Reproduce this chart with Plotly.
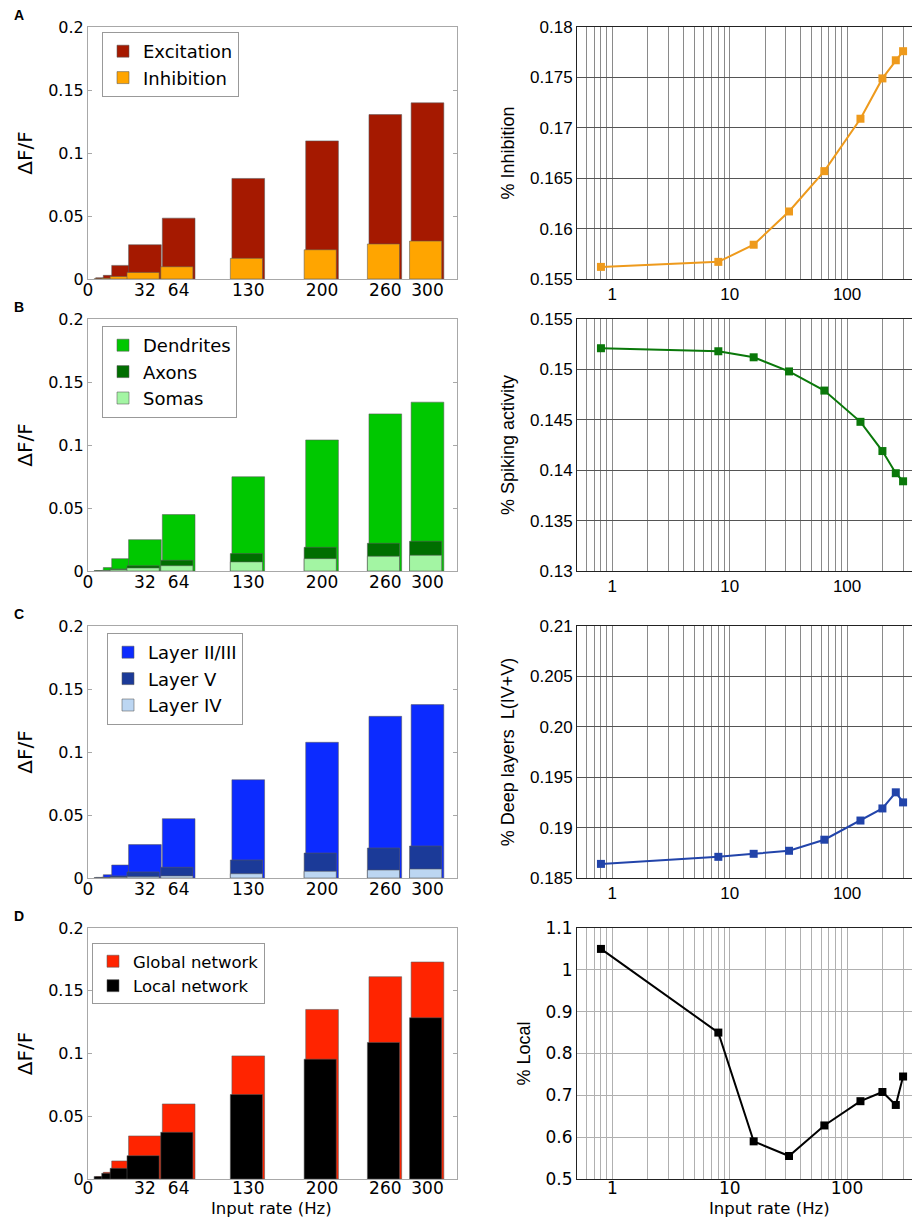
import plotly.graph_objects as go

# input rates (Hz) shared by every panel
rates = [0.8, 8, 16, 32, 64, 130, 200, 260, 300]
bar_tick_rates = [32, 64, 130, 200, 260, 300]
bar_tick_text = ["0", "32", "64", "130", "200", "260", "300"]

# left column: dF/F bars
excitation = [0.0010, 0.0029, 0.0108, 0.0272, 0.0483, 0.0798, 0.1096, 0.1305, 0.1398]
inhibition = [0.0002, 0.0006, 0.0020, 0.0052, 0.0097, 0.0164, 0.0232, 0.0278, 0.0301]

dendrites = [0.0003, 0.0027, 0.0098, 0.0249, 0.0448, 0.0748, 0.1040, 0.1247, 0.1340]
axons = [0.0001, 0.0005, 0.0016, 0.0042, 0.0085, 0.0138, 0.0188, 0.0220, 0.0236]
somas = [0.0001, 0.0003, 0.0010, 0.0024, 0.0042, 0.0072, 0.0098, 0.0117, 0.0125]

layer23 = [0.0005, 0.0026, 0.0103, 0.0265, 0.0471, 0.0780, 0.1077, 0.1283, 0.1376]
layer5 = [0.0001, 0.0006, 0.0016, 0.0048, 0.0085, 0.0143, 0.0198, 0.0238, 0.0254]
layer4 = [0.0001, 0.0002, 0.0005, 0.0010, 0.0016, 0.0034, 0.0053, 0.0063, 0.0071]

global_net = [0.0019, 0.0053, 0.0144, 0.0343, 0.0598, 0.0981, 0.1351, 0.1612, 0.1729]
local_net = [0.0020, 0.0045, 0.0085, 0.0186, 0.0372, 0.0673, 0.0955, 0.1088, 0.1285]

# right column: fractions vs rate (log x)
pct_inhibition = [0.1562, 0.1567, 0.1584, 0.1617, 0.1657, 0.1709, 0.1749, 0.1767, 0.1776]
pct_spiking = [0.1521, 0.1518, 0.1512, 0.1498, 0.1479, 0.1448, 0.1419, 0.1397, 0.1389]
pct_deep = [0.1864, 0.1871, 0.1874, 0.1877, 0.1888, 0.1907, 0.1919, 0.1935, 0.1925]
pct_local = [1.05, 0.85, 0.59, 0.555, 0.628, 0.686, 0.708, 0.677, 0.745]

inh_ticks = [0.155, 0.16, 0.165, 0.17, 0.175, 0.18]
inh_labels = ["0.155", "0.16", "0.165", "0.17", "0.175", "0.18"]
spk_ticks = [0.13, 0.135, 0.14, 0.145, 0.15, 0.155]
spk_labels = ["0.13", "0.135", "0.14", "0.145", "0.15", "0.155"]
deep_ticks = [0.185, 0.19, 0.195, 0.20, 0.205, 0.21]
deep_labels = ["0.185", "0.19", "0.195", "0.20", "0.205", "0.21"]
local_ticks = [0.5, 0.6, 0.7, 0.8, 0.9, 1.0, 1.1]
local_labels = ["0.5", "0.6", "0.7", "0.8", "0.9", "1", "1.1"]
dff_ticks = [0, 0.05, 0.1, 0.15, 0.2]
dff_labels = ["0", "0.05", "0.1", "0.15", "0.2"]
log_major = [1, 10, 100]
log_minor = [0.6, 0.7, 0.8, 0.9, 2, 3, 4, 5, 6, 7, 8, 9,
             20, 30, 40, 50, 60, 70, 80, 90, 200, 300]

W, H = 912, 1217
X_LO, X_HI = -22, 328
BAR_W = 31

left_dom = [88 / W, 457 / W]
right_dom = [577 / W, 1.0]
rows_px = [(27, 279), (319, 571), (626, 878), (928, 1179)]

DJ = "DejaVu Sans"
LIB = "Liberation Sans"

panels = [
    dict(
        letter="A",
        bars=[("Excitation", excitation, "#a51900"), ("Inhibition", inhibition, "#ffa500")],
        line=pct_inhibition, color="#ee9a1c", ytitle="% Inhibition",
        ticks=inh_ticks, labels=inh_labels, legend_px=(102, 32), legend_size=18,
        grid="#555555", vgrid="#8a8a8a",
    ),
    dict(
        letter="B",
        bars=[("Dendrites", dendrites, "#00c800"), ("Axons", axons, "#006e00"),
              ("Somas", somas, "#a3f5a3")],
        line=pct_spiking, color="#0a780a", ytitle="% Spiking activity",
        ticks=spk_ticks, labels=spk_labels, legend_px=(102, 326), legend_size=18,
        grid="#555555", vgrid="#8a8a8a",
    ),
    dict(
        letter="C",
        bars=[("Layer II/III", layer23, "#0c2bff"), ("Layer V", layer5, "#1b3a98"),
              ("Layer IV", layer4, "#bcd6f2")],
        line=pct_deep, color="#2244aa", ytitle="% Deep layers  L(IV+V)",
        ticks=deep_ticks, labels=deep_labels, legend_px=(107, 633), legend_size=18,
        grid="#555555", vgrid="#8a8a8a",
    ),
    dict(
        letter="D",
        bars=[("Global network", global_net, "#ff2400"), ("Local network", local_net, "#000000")],
        line=pct_local, color="#000000", ytitle="% Local",
        ticks=local_ticks, labels=local_labels, legend_px=(92, 943), legend_size=16.5,
        grid="#b0b0b0", vgrid="#b0b0b0",
    ),
]

fig = go.Figure()
layout = dict(
    width=W, height=H,
    margin=dict(l=0, r=0, t=0, b=0),
    paper_bgcolor="white", plot_bgcolor="white",
    barmode="overlay", showlegend=True,
    font=dict(family=DJ, color="black"),
    annotations=[],
)

for i, p in enumerate(panels):
    top, bot = rows_px[i]
    ydom = [1 - bot / H, 1 - top / H]
    li, ri = 2 * i + 1, 2 * i + 2
    lx = "x" if li == 1 else f"x{li}"
    ly = "y" if li == 1 else f"y{li}"
    rx, ry = f"x{ri}", f"y{ri}"
    leg = "legend" if i == 0 else f"legend{i + 1}"
    last = i == len(panels) - 1

    for k, (name, vals, col) in enumerate(p["bars"]):
        fig.add_trace(go.Bar(
            x=rates, y=vals, name=name, legend=leg,
            width=BAR_W if k == 0 else BAR_W - 0.5,
            offset=-BAR_W / 2 if k == 0 else -BAR_W / 2 - 1.5,
            marker=dict(color=col, line=dict(color="rgba(90,90,90,0.55)", width=1)),
            xaxis=lx, yaxis=ly, hoverinfo="skip",
        ))

    fig.add_trace(go.Scatter(
        x=rates, y=p["line"], mode="lines+markers", showlegend=False,
        line=dict(color=p["color"], width=2),
        marker=dict(symbol="square", size=8, color=p["color"]),
        xaxis=rx, yaxis=ry, cliponaxis=False, hoverinfo="skip",
    ))

    layout["xaxis" if li == 1 else f"xaxis{li}"] = dict(
        domain=left_dom, anchor=ly, range=[X_LO, X_HI],
        tickmode="array", tickvals=[X_LO] + bar_tick_rates, ticktext=bar_tick_text,
        tickfont=dict(family=DJ, size=17), ticks="",
        ticklabelstandoff=-6 if last else -4,
        showgrid=False, zeroline=False,
        showline=True, linecolor="#a8a8a8", linewidth=1, mirror=True,
        automargin=False,
    )
    layout["yaxis" if li == 1 else f"yaxis{li}"] = dict(
        domain=ydom, anchor=lx, range=[0, 0.2],
        tickmode="array", tickvals=dff_ticks, ticktext=dff_labels,
        tickfont=dict(family=DJ, size=16), ticks="inside", ticklen=4, tickcolor="#a8a8a8",
        showgrid=False, zeroline=False,
        showline=True, linecolor="#a8a8a8", linewidth=1, mirror="ticks",
        title=dict(text="ΔF/F", font=dict(family=DJ, size=20), standoff=10),
        automargin=False,
    )
    layout[f"xaxis{ri}"] = dict(
        domain=right_dom, anchor=ry, type="log", range=[-0.301, 2.553],
        tickmode="array", tickvals=log_major, ticktext=["1", "10", "100"],
        tickfont=dict(family=DJ if last else LIB, size=17), ticks="",
        ticklabelstandoff=-6 if last else 0,
        showgrid=True, gridcolor=p["vgrid"], gridwidth=1.3,
        minor=dict(tickmode="array", tickvals=log_minor, showgrid=True,
                   gridcolor=p["vgrid"], gridwidth=1.1, ticks=""),
        zeroline=False, showline=True, linecolor="#222222", linewidth=1, mirror=True,
        automargin=False,
    )
    layout[f"yaxis{ri}"] = dict(
        domain=ydom, anchor=rx, range=[p["ticks"][0], p["ticks"][-1]],
        tickmode="array", tickvals=p["ticks"], ticktext=p["labels"],
        tickfont=dict(family=DJ if last else LIB, size=17), ticks="",
        showgrid=True, gridcolor=p["grid"], gridwidth=1.2, zeroline=False,
        showline=True, linecolor="#222222", linewidth=1,
        title=dict(text=p["ytitle"], font=dict(family=LIB, size=18), standoff=10),
        automargin=False,
    )

    lx_px, ly_px = p["legend_px"]
    layout[leg] = dict(
        x=lx_px / W, y=1 - ly_px / H, xanchor="left", yanchor="top",
        xref="paper", yref="paper",
        bgcolor="white", bordercolor="#999999", borderwidth=1,
        font=dict(family=DJ, size=p["legend_size"]),
        tracegroupgap=0, itemclick=False,
    )

    layout["annotations"].append(dict(
        text=f"<b>{p['letter']}</b>", x=19 / W, y=1 - (15 + top - 27) / H,
        xref="paper", yref="paper", showarrow=False,
        xanchor="center", yanchor="middle", font=dict(family=LIB, size=14),
    ))

# shared x titles under the bottom row
for cx in (271, 769):
    layout["annotations"].append(dict(
        text="Input rate (Hz)", x=cx / W, y=1 - 1208 / H,
        xref="paper", yref="paper", showarrow=False, borderpad=0,
        xanchor="center", yanchor="middle", font=dict(family=DJ, size=16.5),
    ))

fig.update_layout(**layout)
fig.write_html(
    "out.html",
    config={"displayModeBar": False},
    post_script="document.body.style.margin='0';document.body.style.overflow='hidden';",
)
